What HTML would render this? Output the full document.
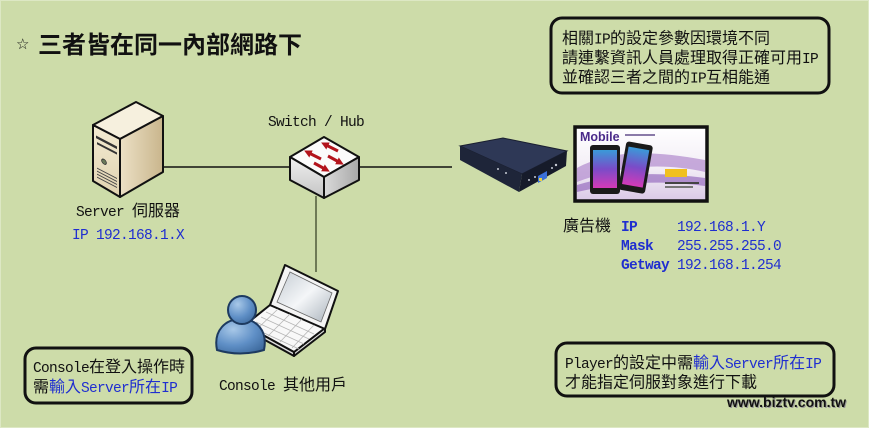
<!DOCTYPE html>
<html>
<head>
<meta charset="utf-8">
<style>
html,body{margin:0;padding:0;}
body{width:869px;height:428px;overflow:hidden;background:#cddca9;}
svg{display:block;}
.t{font-family:"Liberation Mono","Noto Sans CJK TC",monospace;font-size:16px;fill:#111;}
.l{font-family:"Liberation Mono",monospace;font-size:14.5px;letter-spacing:-0.7px;}
.b{fill:#1f2ed0;}
.bw{font-weight:bold;}
</style>
</head>
<body>
<svg width="869" height="428" viewBox="0 0 869 428" xmlns="http://www.w3.org/2000/svg">
<defs>
  <linearGradient id="srvSide" x1="0" y1="0" x2="1" y2="0">
    <stop offset="0" stop-color="#ece1c6"/>
    <stop offset="1" stop-color="#c9b58c"/>
  </linearGradient>
  <linearGradient id="srvFront" x1="0" y1="0" x2="0" y2="1">
    <stop offset="0" stop-color="#f3ebd2"/>
    <stop offset="1" stop-color="#e0d3b0"/>
  </linearGradient>
  <linearGradient id="swL" x1="0" y1="0" x2="0" y2="1">
    <stop offset="0" stop-color="#f0f0f0"/>
    <stop offset="1" stop-color="#c4c4c4"/>
  </linearGradient>
  <linearGradient id="swR" x1="0" y1="0" x2="1" y2="0">
    <stop offset="0" stop-color="#dadada"/>
    <stop offset="1" stop-color="#a8a8a8"/>
  </linearGradient>
  <radialGradient id="pg" cx="0.35" cy="0.3" r="0.85">
    <stop offset="0" stop-color="#a8c8e8"/>
    <stop offset="0.55" stop-color="#5f8fc6"/>
    <stop offset="1" stop-color="#3a6699"/>
  </radialGradient>
  <linearGradient id="lcd" x1="0" y1="0" x2="1" y2="1">
    <stop offset="0" stop-color="#c5ccd3"/>
    <stop offset="0.5" stop-color="#f4f6f8"/>
    <stop offset="1" stop-color="#aab3bc"/>
  </linearGradient>
  <linearGradient id="scrBg" x1="0" y1="0" x2="0" y2="1">
    <stop offset="0" stop-color="#ffffff"/>
    <stop offset="0.55" stop-color="#f3eef6"/>
    <stop offset="1" stop-color="#d9c8e6"/>
  </linearGradient>
  <linearGradient id="ph" x1="0" y1="0" x2="0" y2="1">
    <stop offset="0" stop-color="#3a9ad8"/>
    <stop offset="0.5" stop-color="#7a4cc8"/>
    <stop offset="1" stop-color="#d43ab8"/>
  </linearGradient>
  <marker id="ah" viewBox="0 0 10 10" refX="3" refY="5" markerWidth="2.6" markerHeight="2.6" orient="auto">
    <path d="M0,0 L10,5 L0,10 z" fill="#b3141c"/>
  </marker>
</defs>

<rect x="0.5" y="0.5" width="868" height="427" fill="none" stroke="#dde8c4" stroke-width="1"/>

<!-- connectors -->
<line x1="163" y1="167" x2="292" y2="167" stroke="#111" stroke-width="1.5"/>
<line x1="358" y1="167" x2="452" y2="167" stroke="#111" stroke-width="1.5"/>
<line x1="316" y1="196" x2="316" y2="272" stroke="#4e5a3a" stroke-width="1.5"/>

<!-- server -->
<g stroke="#111" stroke-width="2" stroke-linejoin="round">
  <polygon points="136,102 163,116 120,139 93,125" fill="#f6f0de"/>
  <polygon points="93,125 120,139 120,197 93,181" fill="url(#srvFront)"/>
  <polygon points="120,139 163,116 163,172 120,197" fill="url(#srvSide)"/>
</g>
<g transform="matrix(1,0.52,0,1,93,125)">
  <rect x="3" y="9" width="21" height="2.6" fill="#333"/>
  <rect x="4" y="15" width="20" height="2.2" fill="#333"/>
  <circle cx="11" cy="31" r="2.4" fill="#6b7a5a" stroke="#333" stroke-width="0.8"/>
  <g stroke="#444" stroke-width="1">
    <line x1="4" y1="41" x2="24" y2="41"/>
    <line x1="4" y1="44" x2="24" y2="44"/>
    <line x1="4" y1="47" x2="24" y2="47"/>
    <line x1="4" y1="50" x2="24" y2="50"/>
  </g>
</g>

<!-- switch -->
<g stroke="#111" stroke-width="2" stroke-linejoin="round">
  <polygon points="324,137 359,157 324,177 290,157" fill="#fbfbfb"/>
  <polygon points="290,157 324,177 324,198 290,180" fill="url(#swL)"/>
  <polygon points="324,177 359,157 359,180 324,198" fill="url(#swR)"/>
</g>
<g stroke="#b3141c" stroke-width="3" marker-end="url(#ah)">
  <line x1="338" y1="151" x2="326" y2="145"/>
  <line x1="321" y1="159" x2="309" y2="153"/>
  <line x1="328" y1="156" x2="339" y2="162"/>
  <line x1="314" y1="163" x2="325" y2="169"/>
</g>

<!-- player box -->
<polygon points="460,146 503,138 567,151 522,174" fill="#2e3856" stroke="#1a1f30" stroke-width="1"/>
<polygon points="460,146 522,174 519,192 460,160" fill="#1e2539"/>
<polygon points="522,174 567,151 566,166 519,192" fill="#161b2a"/>
<g fill="#c8ccd6">
  <circle cx="498" cy="169" r="1"/><circle cx="506" cy="173" r="1"/>
  <circle cx="529" cy="180" r="1"/><circle cx="535" cy="177" r="1"/>
  <circle cx="556" cy="165" r="1.2"/><circle cx="552" cy="168" r="1"/>
</g>
<polygon points="538,176 547,171 547,178 538,183" fill="#3a6fd8"/>
<rect x="539" y="178" width="3" height="3" fill="#e8d040"/>

<!-- display screen -->
<rect x="575" y="127" width="132" height="74" fill="url(#scrBg)" stroke="#111" stroke-width="3.5"/>
<path d="M577,168 C610,150 650,150 705,160 L705,172 C660,162 620,166 577,182 Z" fill="#b690d0" opacity="0.75"/>
<path d="M577,185 C620,172 660,172 705,178 L705,186 C660,180 620,182 577,192 Z" fill="#8a5ab8" opacity="0.6"/>
<text x="580" y="141" font-family="Liberation Sans" font-weight="bold" font-size="12.5" fill="#4a2a8a">Mobile</text>
<rect x="625" y="134" width="30" height="2" fill="#8a7aa8"/>
<rect x="590" y="145" width="30" height="49" rx="3" fill="#1a1a1a"/>
<rect x="593" y="150" width="24" height="38" fill="url(#ph)"/>
<g transform="rotate(10 635 168)">
  <rect x="622" y="143" width="27" height="49" rx="3" fill="#1a1a1a"/>
  <rect x="625" y="148" width="21" height="38" fill="url(#ph)"/>
</g>
<rect x="665" y="169" width="22" height="8" fill="#f0c020"/>
<rect x="665" y="182" width="34" height="2" fill="#444"/>
<rect x="665" y="186" width="28" height="2" fill="#777"/>

<!-- laptop -->
<g stroke="#111" stroke-width="2" stroke-linejoin="round">
  <polygon points="245,325 294,352 294,356 245,329" fill="#ddd"/>
  <polygon points="294,352 325,328 325,332 294,356" fill="#ddd"/>
  <polygon points="270,305 325,328 294,352 245,325" fill="#f8f8f8"/>
  <polygon points="285,265 338,291 325,329 270,305" fill="#f4f4f4"/>
</g>
<polygon points="290,272 332,293 321,322 277,302" fill="url(#lcd)" stroke="#666" stroke-width="0.8"/>
<g stroke="#b5b5b5" stroke-width="0.8" fill="none">
  <line x1="266" y1="312" x2="314" y2="334"/>
  <line x1="261" y1="317" x2="309" y2="339"/>
  <line x1="256" y1="322" x2="304" y2="344"/>
  <line x1="251" y1="327" x2="299" y2="349"/>
  <line x1="278" y1="309" x2="256" y2="330"/>
  <line x1="290" y1="314" x2="268" y2="336"/>
  <line x1="302" y1="319" x2="280" y2="342"/>
  <line x1="314" y1="325" x2="292" y2="348"/>
</g>

<!-- person -->
<path d="M217,350 C213,330 226,319 241,319 C256,319 268,330 264,350 Q240,357 217,350 Z" fill="url(#pg)" stroke="#1d3a60" stroke-width="2"/>
<circle cx="242" cy="310" r="14" fill="url(#pg)" stroke="#1d3a60" stroke-width="2"/>

<!-- boxes -->
<rect x="551" y="18" width="278" height="75" rx="11" fill="none" stroke="#111" stroke-width="3"/>
<rect x="25" y="348" width="167" height="55" rx="11" fill="none" stroke="#111" stroke-width="3"/>
<rect x="556" y="343" width="278" height="53" rx="11" fill="none" stroke="#111" stroke-width="3"/>

<!-- texts -->
<text x="16" y="49" font-family="DejaVu Sans" font-size="15" fill="#111">☆</text>
<text x="38" y="53" font-family="Noto Sans CJK TC, sans-serif" font-size="24" font-weight="bold" fill="#111">三者皆在同一內部網路下</text>

<text x="268" y="126" class="t"><tspan class="l">Switch / Hub</tspan></text>
<text x="76" y="216" class="t"><tspan class="l">Server </tspan>伺服器</text>
<text x="72" y="239" class="t b"><tspan class="l">IP 192.168.1.X</tspan></text>

<text x="563" y="231" class="t">廣告機</text>
<text x="621" y="231" class="t b"><tspan class="l bw">IP</tspan></text>
<text x="621" y="250" class="t b"><tspan class="l bw">Mask</tspan></text>
<text x="621" y="269" class="t b"><tspan class="l bw">Getway</tspan></text>
<text x="677" y="231" class="t b"><tspan class="l">192.168.1.Y</tspan></text>
<text x="677" y="250" class="t b"><tspan class="l">255.255.255.0</tspan></text>
<text x="677" y="269" class="t b"><tspan class="l">192.168.1.254</tspan></text>

<text x="219" y="390" class="t"><tspan class="l">Console </tspan>其他用戶</text>

<text x="33" y="372" class="t"><tspan class="l">Console</tspan>在登入操作時</text>
<text x="33" y="392" class="t">需<tspan class="b">輸入</tspan><tspan class="l b">Server</tspan><tspan class="b">所在</tspan><tspan class="l b">IP</tspan></text>

<text x="562" y="43.5" class="t">相關<tspan class="l">IP</tspan>的設定參數因環境不同</text>
<text x="562" y="63" class="t">請連繫資訊人員處理取得正確可用<tspan class="l">IP</tspan></text>
<text x="562" y="82.5" class="t">並確認三者之間的<tspan class="l">IP</tspan>互相能通</text>

<text x="565" y="368" class="t"><tspan class="l">Player</tspan>的設定中需<tspan class="b">輸入</tspan><tspan class="l b">Server</tspan><tspan class="b">所在</tspan><tspan class="l b">IP</tspan></text>
<text x="565" y="387.5" class="t">才能指定伺服對象進行下載</text>

<text x="728" y="408" font-family="Liberation Sans, sans-serif" font-weight="bold" font-size="14" fill="#999">www.biztv.com.tw</text>
<text x="727" y="407" font-family="Liberation Sans, sans-serif" font-weight="bold" font-size="14" fill="#111">www.biztv.com.tw</text>
</svg>
</body>
</html>
